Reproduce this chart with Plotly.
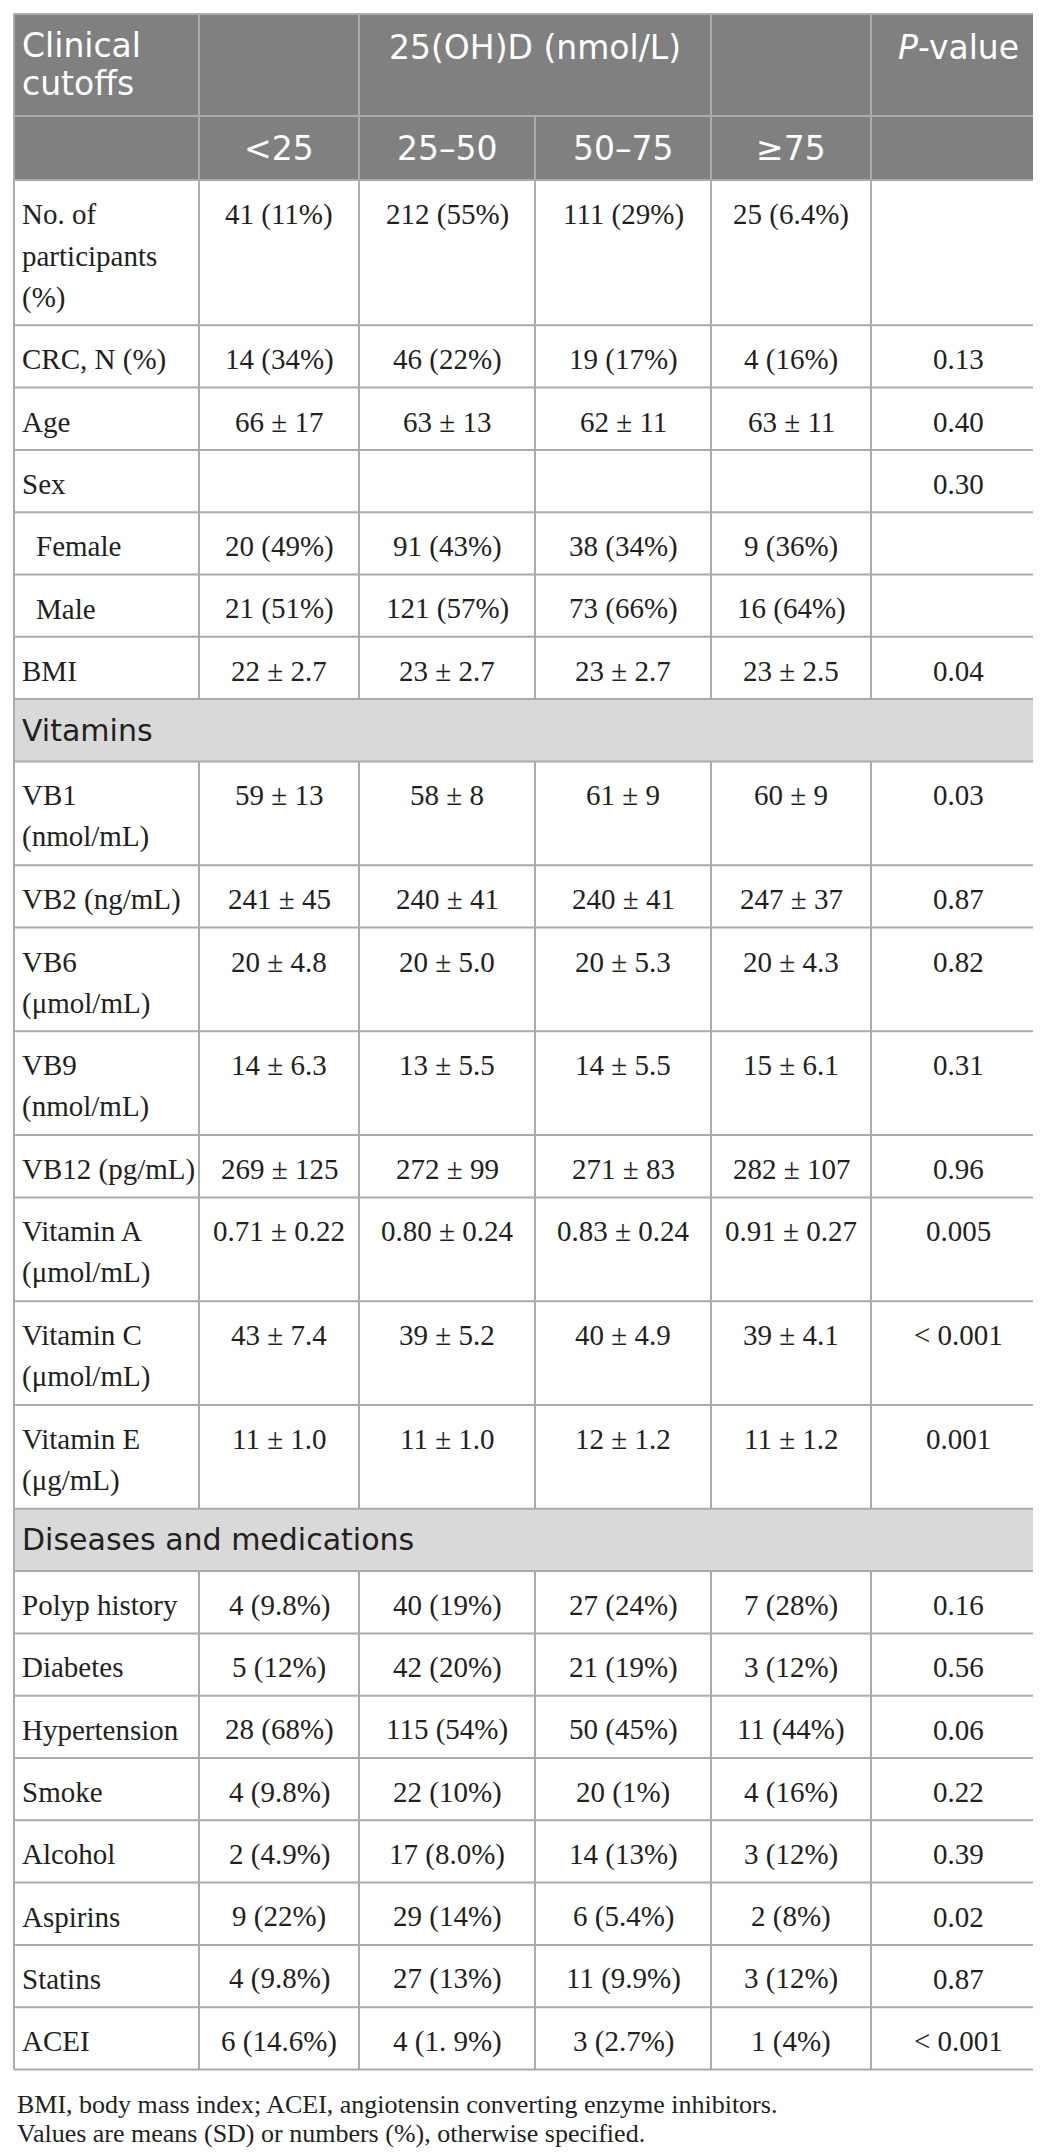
import plotly.graph_objects as go

# row labels, <br> = wrapped line in the first column
labels = [
    "No. of<br>participants<br>(%)", "CRC, N (%)", "Age", "Sex", "Female", "Male", "BMI",
    "Vitamins",
    "VB1<br>(nmol/mL)", "VB2 (ng/mL)", "VB6<br>(μmol/mL)", "VB9<br>(nmol/mL)", "VB12 (pg/mL)",
    "Vitamin A<br>(μmol/mL)", "Vitamin C<br>(μmol/mL)", "Vitamin E<br>(μg/mL)",
    "Diseases and medications",
    "Polyp history", "Diabetes", "Hypertension", "Smoke", "Alcohol", "Aspirins", "Statins", "ACEI",
]
section_labels = ["Vitamins", "Diseases and medications"]
sub_labels = ["Female", "Male"]

lt25 = ["41 (11%)", "14 (34%)", "66 ± 17", "", "20 (49%)", "21 (51%)", "22 ± 2.7", "",
        "59 ± 13", "241 ± 45", "20 ± 4.8", "14 ± 6.3", "269 ± 125", "0.71 ± 0.22", "43 ± 7.4", "11 ± 1.0", "",
        "4 (9.8%)", "5 (12%)", "28 (68%)", "4 (9.8%)", "2 (4.9%)", "9 (22%)", "4 (9.8%)", "6 (14.6%)"]
r25_50 = ["212 (55%)", "46 (22%)", "63 ± 13", "", "91 (43%)", "121 (57%)", "23 ± 2.7", "",
          "58 ± 8", "240 ± 41", "20 ± 5.0", "13 ± 5.5", "272 ± 99", "0.80 ± 0.24", "39 ± 5.2", "11 ± 1.0", "",
          "40 (19%)", "42 (20%)", "115 (54%)", "22 (10%)", "17 (8.0%)", "29 (14%)", "27 (13%)", "4 (1. 9%)"]
r50_75 = ["111 (29%)", "19 (17%)", "62 ± 11", "", "38 (34%)", "73 (66%)", "23 ± 2.7", "",
          "61 ± 9", "240 ± 41", "20 ± 5.3", "14 ± 5.5", "271 ± 83", "0.83 ± 0.24", "40 ± 4.9", "12 ± 1.2", "",
          "27 (24%)", "21 (19%)", "50 (45%)", "20 (1%)", "14 (13%)", "6 (5.4%)", "11 (9.9%)", "3 (2.7%)"]
ge75 = ["25 (6.4%)", "4 (16%)", "63 ± 11", "", "9 (36%)", "16 (64%)", "23 ± 2.5", "",
        "60 ± 9", "247 ± 37", "20 ± 4.3", "15 ± 6.1", "282 ± 107", "0.91 ± 0.27", "39 ± 4.1", "11 ± 1.2", "",
        "7 (28%)", "3 (12%)", "11 (44%)", "4 (16%)", "3 (12%)", "2 (8%)", "3 (12%)", "1 (4%)"]
p_values = ["", "0.13", "0.40", "0.30", "", "", "0.04", "",
            "0.03", "0.87", "0.82", "0.31", "0.96", "0.005", "&lt; 0.001", "0.001", "",
            "0.16", "0.56", "0.06", "0.22", "0.39", "0.02", "0.87", "&lt; 0.001"]

header_top = ["Clinical<br>cutoffs", "", "25(OH)D (nmol/L)", "", "<i>P</i>-value"]
header_top_span = [1, 1, 2, 1, 1]
header_sub = ["", "&lt;25", "25–50", "50–75", "≥75", ""]

footnotes = ["BMI, body mass index; ACEI, angiotensin converting enzyme inhibitors.",
             "Values are means (SD) or numbers (%), otherwise specified."]

# layout
W, H = 1041, 2152
col_edges = [6, 191, 351, 527, 703, 863, 1037]
top = 6
head1_h, head2_h = 102, 64
row_h, line_step = 62.3, 41.5
grid = "#ababab"
head_fill = "#808080"
band_fill = "#d9d9d9"
ink = "#231f20"
serif = "Liberation Serif"
sans = "DejaVu Sans"

fig = go.Figure()
shapes = []
notes = []


def hline(y, x0=col_edges[0], x1=col_edges[-1]):
  shapes.append(dict(type="line", x0=x0, x1=x1, y0=y, y1=y, line=dict(color=grid, width=2)))


def vline(x, y0, y1):
  shapes.append(dict(type="line", x0=x, x1=x, y0=y0, y1=y1, line=dict(color=grid, width=2)))


def text(x, y, s, size, color=ink, family=serif, anchor="center"):
  notes.append(dict(x=x, y=y, text=s, showarrow=False, xanchor=anchor, yanchor="middle",
                    font=dict(family=family, size=size, color=color)))


centers = [(col_edges[i] + col_edges[i + 1]) / 2 for i in range(6)]

# header block
y_h1 = top + head1_h
y_h2 = y_h1 + head2_h
shapes.append(dict(type="rect", x0=col_edges[0], x1=col_edges[-1], y0=top, y1=y_h2,
                   fillcolor=head_fill, line=dict(width=0), layer="below"))
c = 0
for s, span in zip(header_top, header_top_span):
  x0, x1 = col_edges[c], col_edges[c + span]
  if c > 0:
    vline(x0, top, y_h1)
  parts = s.split("<br>")
  for k, p in enumerate(parts):
    if c == 0:
      text(x0 + 6, top + 31 + k * 38, p, 33, "white", sans, "left")
    else:
      text((x0 + x1) / 2, top + 33 + k * 38, p, 33, "white", sans)
  c += span
hline(top)
hline(y_h1)
for i, s in enumerate(header_sub):
  if i > 0:
    vline(col_edges[i], y_h1, y_h2)
  if s:
    text(centers[i], (y_h1 + y_h2) / 2, s, 33, "white", sans)
hline(y_h2)

# body rows
y = y_h2
cols = [lt25, r25_50, r50_75, ge75, p_values]
for r, lab in enumerate(labels):
  parts = lab.split("<br>")
  h = row_h + line_step * (len(parts) - 1)
  if lab in section_labels:
    shapes.append(dict(type="rect", x0=col_edges[0], x1=col_edges[-1], y0=y, y1=y + h,
                       fillcolor=band_fill, line=dict(width=0), layer="below"))
    text(col_edges[0] + 6, y + h / 2, lab, 30, ink, sans, "left")
  else:
    indent = 20 if lab in sub_labels else 6
    for k, p in enumerate(parts):
      text(col_edges[0] + indent, y + 34 + k * line_step, p, 29, ink, serif, "left")
    for j, col in enumerate(cols):
      if col[r]:
        text(centers[j + 1], y + 34, col[r], 29)
    for x in col_edges[1:-1]:
      vline(x, y, y + h)
  y += h
  hline(y)

# outer frame
vline(col_edges[0], top, y)
vline(col_edges[-1], top, y)

# footnotes
for k, s in enumerate(footnotes):
  text(7, y + 35 + k * 29, s, 26, ink, serif, "left")

fig.update_layout(
  width=W, height=H,
  margin=dict(l=0, r=0, t=0, b=0),
  paper_bgcolor="white", plot_bgcolor="white",
  xaxis=dict(range=[0, W], visible=False, fixedrange=True),
  yaxis=dict(range=[H, 0], visible=False, fixedrange=True),
  shapes=shapes, annotations=notes,
  showlegend=False,
)

fig.write_html("out.html")
